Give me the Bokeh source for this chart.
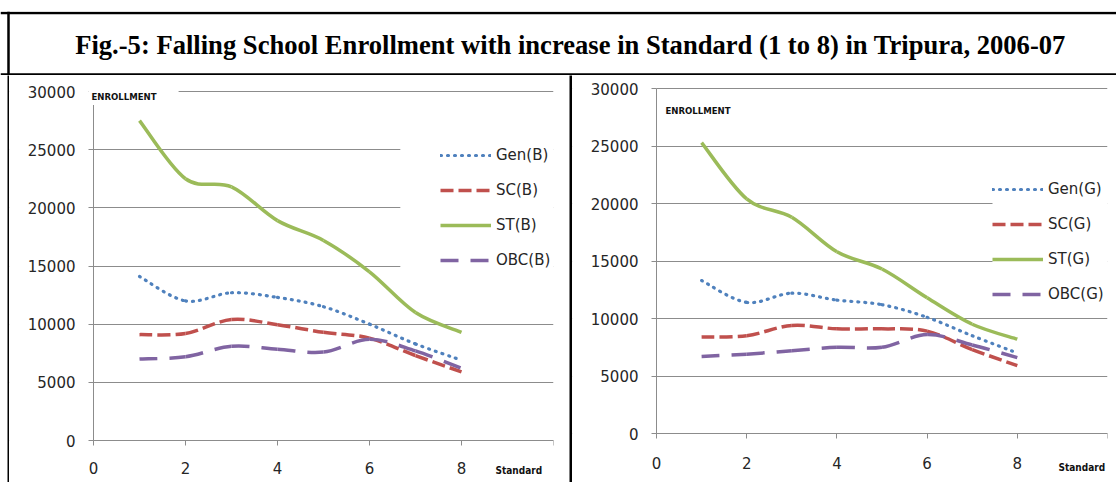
from bokeh.plotting import figure
from bokeh.models import Range1d, Span, Label, Legend, LegendItem, BoxAnnotation, FixedTicker, Spacer
from bokeh.layouts import column, row
from bokeh.embed import file_html
from bokeh.resources import INLINE

# ---------------- data ----------------
standard = [1, 2, 3, 4, 5, 6, 7, 8]

gen_b = [14100, 12000, 12700, 12300, 11500, 10000, 8300, 6900]
sc_b = [9100, 9200, 10400, 9950, 9300, 8800, 7300, 5900]
st_b = [27500, 22500, 21800, 18900, 17200, 14500, 11000, 9300]
obc_b = [7000, 7200, 8100, 7850, 7600, 8700, 7700, 6200]

gen_g = [13300, 11400, 12200, 11600, 11200, 10100, 8500, 7000]
sc_g = [8400, 8500, 9400, 9100, 9100, 8900, 7300, 5900]
st_g = [25300, 20400, 18800, 15800, 14300, 11800, 9500, 8200]
obc_g = [6700, 6900, 7200, 7500, 7500, 8600, 7700, 6600]

labels_b = ["Gen(B)", "SC(B)", "ST(B)", "OBC(B)"]
labels_g = ["Gen(G)", "SC(G)", "ST(G)", "OBC(G)"]

x_ticks = [0, 2, 4, 6, 8, 10]
y_ticks = [0, 5000, 10000, 15000, 20000, 25000, 30000]
y_max = 30000
x_max = 10

title_text = "Fig.-5: Falling School Enrollment with increase in Standard (1 to 8) in Tripura, 2006-07"
y_title = "ENROLLMENT"
x_title = "Standard"

# ---------------- styles ----------------
STYLES = [
    dict(line_color="#4F81BD", line_width=3.2, line_dash="1 6", line_cap="round"),
    dict(line_color="#C0504D", line_width=3.5, line_dash="13 5"),
    dict(line_color="#9BBB59", line_width=3.5, line_dash="solid"),
    dict(line_color="#8064A2", line_width=3.5, line_dash="18 12"),
]
GRID = "#8c8c8c"
TXT = "#262626"
TICK_FONT = "DejaVu Sans"
NARROW = "DejaVu Sans Condensed"
PANEL_H = 407


def smooth_segments(xs, ys):
    """Catmull-Rom style control points (Excel 'smoothed line')."""
    n = len(xs)
    out = dict(x0=[], y0=[], x1=[], y1=[], cx0=[], cy0=[], cx1=[], cy1=[])
    for i in range(n - 1):
        ip, in2 = max(i - 1, 0), min(i + 2, n - 1)
        out["x0"].append(xs[i]); out["y0"].append(ys[i])
        out["x1"].append(xs[i + 1]); out["y1"].append(ys[i + 1])
        out["cx0"].append(xs[i] + (xs[i + 1] - xs[ip]) / 6.0)
        out["cy0"].append(ys[i] + (ys[i + 1] - ys[ip]) / 6.0)
        out["cx1"].append(xs[i + 1] - (xs[in2] - xs[i]) / 6.0)
        out["cy1"].append(ys[i + 1] - (ys[in2] - ys[i]) / 6.0)
    return out


def panel(width, x0_px, x10_px, ytop_px, y0_px, series, labels, leg_loc,
          mask_box, xstandoff, std_off, enr_xy, enr_bg):
    # the frame fills the canvas (except a right margin); both axes are pinned
    # at the data origin so that every tick label lies inside the frame
    plot_w = x10_px - x0_px
    plot_h = y0_px - ytop_px
    x_lo = -x_max * x0_px / plot_w
    y_hi = y_max + y_max * ytop_px / plot_h
    below = PANEL_H - y0_px
    y_lo = -y_max * below / plot_h
    p = figure(width=width, height=PANEL_H, x_range=Range1d(x_lo, x_max),
               y_range=Range1d(y_lo, y_hi),
               output_backend="svg", toolbar_location=None,
               min_border_left=0, min_border_right=width - x10_px,
               min_border_top=0, min_border_bottom=0)
    p.outline_line_color = None
    p.background_fill_color = "white"
    p.border_fill_color = "white"
    p.xgrid.visible = False
    p.ygrid.grid_line_color = GRID
    p.ygrid.grid_line_width = 1
    for ax in (p.xaxis[0], p.yaxis[0]):
        ax.axis_line_color = GRID
        ax.major_tick_line_color = GRID
        ax.minor_tick_line_color = None
        ax.major_tick_out = 5
        ax.major_tick_in = 0
        ax.major_label_text_font = TICK_FONT
        ax.major_label_text_font_size = "15px"
        ax.major_label_text_color = TXT
        ax.fixed_location = 0
    p.xaxis.ticker = FixedTicker(ticks=x_ticks)
    p.yaxis.ticker = FixedTicker(ticks=y_ticks)
    p.xaxis.major_label_overrides = {10: ""}
    p.xaxis.major_label_standoff = xstandoff
    p.xaxis.bounds = (0, x_max)
    p.yaxis.major_label_standoff = 13
    p.yaxis.bounds = (0, y_max)

    # white masks: no grid left of the y axis, grid cut behind legend / axis title
    masks = [(x_lo - 1, 0, y_lo - 1000, y_hi + 1000)] + mask_box
    for (l, r, b, t) in masks:
        p.add_layout(BoxAnnotation(left=l, right=r, bottom=b, top=t, fill_color="white",
                                   fill_alpha=1, line_color=None, level="underlay"))

    items = []
    for ys, lab, st in zip(series, labels, STYLES):
        seg = smooth_segments(standard, ys)
        r = p.bezier(**seg, **st)
        items.append(LegendItem(label=lab, renderers=[r], index=0))

    leg = Legend(items=items, location=(leg_loc[0] + x0_px, leg_loc[1] + below),
                 glyph_width=51, glyph_height=20, label_height=20, spacing=15, padding=0,
                 margin=0, label_standoff=5, label_text_font=TICK_FONT,
                 label_text_font_size="15px", label_text_color=TXT,
                 background_fill_alpha=0, border_line_color=None)
    p.add_layout(leg)

    p.add_layout(Label(x=x_max, y=0, x_offset=std_off[0], y_offset=std_off[1], text=x_title,
                       text_font=NARROW, text_font_size="10px", text_font_style="bold",
                       text_color="#111111", text_align="left", text_baseline="middle"))

    kw = {}
    if enr_bg:
        kw = dict(background_fill_color="white", background_fill_alpha=1.0, padding=3)
    p.add_layout(Label(x=0, y=y_max, x_offset=enr_xy[0], y_offset=enr_xy[1], text=y_title,
                       text_font=NARROW, text_font_size="9.5px", text_font_style="bold",
                       text_color="#111111", text_align="left", text_baseline="middle", **kw))
    return p


# left panel: canvas x 9..569, y 75..482; axis x=0 at 93, x=10 at 553, y=30000 at 91, y=0 at 440
left = panel(560, 84, 544, 16, 365, [gen_b, sc_b, st_b, obc_b], labels_b, (347, 170),
             [(6.67, 10.5, 12500, 27500), (-0.1, 1.85, 28500, 31000)],
             16, (-58, -30), (-5, -5), True)
# right panel: canvas x 572..1116; x=0 at 656, x=10 at 1107, y=30000 at 88, y=0 at 433
right = panel(544, 84, 535, 13, 358, [gen_g, sc_g, st_g, obc_g], labels_g, (336, 129),
              [(7.45, 10.5, 12500, 22500)],
              18, (-49, -34), (9, -22), False)

# ---------------- title strip with borders ----------------
tf = figure(width=1116, height=75, x_range=Range1d(0, 1116), y_range=Range1d(75, 11),
            output_backend="svg", toolbar_location=None, x_axis_type=None, y_axis_type=None,
            min_border_left=0, min_border_right=0, min_border_top=11, min_border_bottom=0)
tf.outline_line_color = None
tf.grid.visible = False
tf.add_layout(Span(location=12.5, dimension="width", line_color="black", line_width=2.5))
tf.add_layout(Span(location=74, dimension="width", line_color="black", line_width=2.5))
tf.add_layout(Span(location=8, dimension="height", line_color="black", line_width=2.5))
tf.add_layout(Label(x=570, y=44, text=title_text, text_font="Liberation Serif",
                    text_font_size="26.6px", text_font_style="bold", text_color="black",
                    text_align="center", text_baseline="middle"))


def black_bar(width):
    b = figure(width=width, height=PANEL_H, output_backend="svg", toolbar_location=None,
               x_axis_type=None, y_axis_type=None, min_border=0,
               background_fill_color="black", border_fill_color="black")
    b.outline_line_color = None
    b.grid.visible = False
    return b


layout = column(
    tf,
    row(Spacer(width=7, height=PANEL_H), black_bar(2), column(left), black_bar(3),
        column(right), spacing=0),
    spacing=0)

open("out.html", "w").write(file_html(layout, INLINE))
